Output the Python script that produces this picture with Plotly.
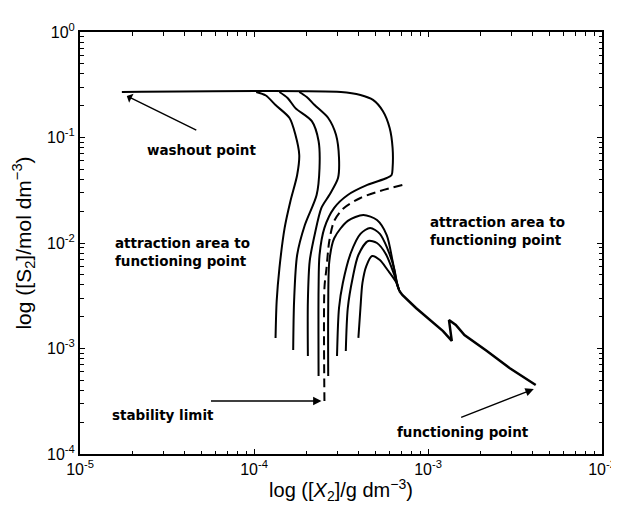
import plotly.graph_objects as go

# ---- trajectories: X2 (g dm^-3) vs S2 (mol dm^-3) ----
# left trajectories leaving the washout plateau
t1_x = [1.03e-4, 1.17e-4, 1.33e-4, 1.60e-4, 1.73e-4, 1.82e-4, 1.77e-4, 1.62e-4, 1.50e-4, 1.40e-4, 1.35e-4, 1.33e-4]
t1_y = [0.270, 0.250, 0.203, 0.153, 0.106, 0.0683, 0.0441, 0.0250, 0.0139, 0.00579, 0.00282, 0.00126]

t2_x = [1.40e-4, 1.56e-4, 1.73e-4, 2.15e-4, 2.35e-4, 2.38e-4, 2.29e-4, 1.96e-4, 1.77e-4, 1.70e-4, 1.68e-4]
t2_y = [0.270, 0.237, 0.190, 0.143, 0.0927, 0.0514, 0.0285, 0.0148, 0.00769, 0.00282, 0.000968]

t3_x = [1.82e-4, 2.01e-4, 2.23e-4, 2.67e-4, 2.96e-4, 3.08e-4, 3.04e-4, 2.71e-4, 2.44e-4, 2.23e-4, 2.09e-4, 2.04e-4, 2.04e-4]
t3_y = [0.270, 0.242, 0.203, 0.153, 0.106, 0.0639, 0.0413, 0.0285, 0.0215, 0.0119, 0.00675, 0.00282, 0.000849]

# outer trajectory incl. washout plateau
t4_x = [1.74e-5, 3.16e-4, 4.09e-4, 4.83e-4, 5.50e-4, 6.02e-4, 6.26e-4, 6.26e-4, 6.18e-4, 5.79e-4,
        4.48e-4, 3.46e-4, 2.89e-4, 2.54e-4, 2.38e-4, 2.35e-4, 2.35e-4]
t4_y = [0.270, 0.270, 0.253, 0.227, 0.178, 0.123, 0.0795, 0.0514, 0.0441, 0.0413,
        0.0355, 0.0285, 0.0215, 0.0139, 0.00769, 0.0037, 0.000549]

# separatrix (stability limit)
sep_x = [7.12e-4, 5.29e-4, 4.09e-4, 3.29e-4, 2.89e-4, 2.71e-4, 2.61e-4, 2.54e-4, 2.54e-4]
sep_y = [0.0355, 0.0311, 0.0267, 0.0215, 0.0162, 0.0105, 0.00579, 0.00375, 0.000318]

# trajectories attracted to the functioning point
a_x = [2.67e-4, 2.67e-4, 2.71e-4, 2.89e-4, 3.46e-4, 4.25e-4, 5.09e-4, 5.79e-4, 6.26e-4, 6.59e-4, 6.85e-4]
a_y = [0.000549, 0.00242, 0.00675, 0.0111, 0.0162, 0.0184, 0.0165, 0.0119, 0.00675, 0.00436, 0.00351]

b_x = [3.00e-4, 3.08e-4, 3.24e-4, 3.60e-4, 4.09e-4, 4.65e-4, 5.29e-4, 5.86e-4, 6.42e-4, 6.68e-4, 6.85e-4]
b_y = [0.000849, 0.00242, 0.00418, 0.00804, 0.0122, 0.0139, 0.0122, 0.00877, 0.00555, 0.00391, 0.00351]

c_x = [3.37e-4, 3.46e-4, 3.69e-4, 3.98e-4, 4.53e-4, 5.09e-4, 5.72e-4, 6.34e-4, 6.76e-4, 6.85e-4]
c_y = [0.000947, 0.00242, 0.00466, 0.00769, 0.01045, 0.0100, 0.00787, 0.00520, 0.00375, 0.00351]

d_x = [3.98e-4, 4.09e-4, 4.20e-4, 4.42e-4, 4.77e-4, 5.29e-4, 5.86e-4, 6.50e-4, 6.85e-4]
d_y = [0.00126, 0.00242, 0.00418, 0.00605, 0.00753, 0.00690, 0.00555, 0.00436, 0.00351]

# common path to the functioning point
tail_x = [6.85e-4, 7.12e-4, 8.53e-4, 1.05e-3, 1.22e-3, 1.37e-3, 1.32e-3, 1.445e-3, 1.62e-3, 2.18e-3, 2.94e-3, 4.16e-3]
tail_y = [0.00351, 0.00322, 0.00242, 0.00182, 0.00146, 0.00118, 0.00186, 0.00167, 0.00134, 0.000947, 0.000653, 0.000451]

# ---- ticks ----
x_major = [1e-5, 1e-4, 1e-3, 1e-2]
x_major_text = ["10<sup>-5</sup>", "10<sup>-4</sup>", "10<sup>-3</sup>", "10<sup>-2</sup>"]
y_major = [1e-4, 1e-3, 1e-2, 1e-1, 1e0]
y_major_text = ["10<sup>-4</sup>", "10<sup>-3</sup>", "10<sup>-2</sup>", "10<sup>-1</sup>", "10<sup>0</sup>"]
x_minor = [k * 10.0 ** d for d in (-5, -4, -3) for k in range(2, 10)]
y_minor = [k * 10.0 ** d for d in (-4, -3, -2, -1) for k in range(2, 10)]

# ---- labels (positions in log10 units) ----
label_text = ["washout point", "attraction area to<br>functioning point",
              "attraction area to<br>functioning point", "stability limit", "functioning point"]
label_lx = [-4.30, -4.412, -2.599, -4.524, -2.801]
label_ly = [-1.118, -2.085, -1.882, -3.630, -3.795]

# arrows: head and tail (log10 units)
arrow_head_lx = [-4.731, -3.612, -2.392]
arrow_head_ly = [-0.607, -3.498, -3.384]
arrow_tail_lx = [-4.323, -4.256, -2.818]
arrow_tail_ly = [-0.938, -3.498, -3.659]
arrow_style = [1, 2, 2]

fig = go.Figure()

solid = [(t1_x, t1_y), (t2_x, t2_y), (t3_x, t3_y), (t4_x, t4_y),
         (a_x, a_y), (b_x, b_y), (c_x, c_y), (d_x, d_y)]
for xs, ys in solid:
    fig.add_trace(go.Scatter(x=xs, y=ys, mode="lines",
                             line=dict(color="black", width=2, shape="spline", smoothing=0.8),
                             hoverinfo="skip"))
fig.add_trace(go.Scatter(x=sep_x, y=sep_y, mode="lines",
                         line=dict(color="black", width=2, dash="9px,5px", shape="spline", smoothing=0.8),
                         hoverinfo="skip"))
fig.add_trace(go.Scatter(x=tail_x, y=tail_y, mode="lines",
                         line=dict(color="black", width=2.5), hoverinfo="skip"))

for t, lx, ly in zip(label_text, label_lx, label_ly):
    fig.add_annotation(x=lx, y=ly, xref="x", yref="y", text="<b>" + t + "</b>", showarrow=False,
                       font=dict(family="DejaVu Sans", size=13.5, color="black"), align="left")

for hx, hy, tx, ty, st in zip(arrow_head_lx, arrow_head_ly, arrow_tail_lx, arrow_tail_ly, arrow_style):
    fig.add_annotation(x=hx, y=hy, xref="x", yref="y", ax=tx, ay=ty, axref="x", ayref="y",
                       text="", showarrow=True, arrowhead=st, arrowsize=1.2, arrowwidth=1.4,
                       arrowcolor="black", standoff=0, startstandoff=0)

axis_common = dict(type="log", showgrid=False, zeroline=False, showline=True, linecolor="black",
                   linewidth=2, mirror="allticks", ticks="inside", ticklen=5, tickwidth=1,
                   tickcolor="black", ticklabeloverflow="allow",
                   tickfont=dict(family="Liberation Sans", size=16, color="black"))

fig.update_layout(
    width=619, height=507,
    margin=dict(l=72, r=11, t=24, b=61),
    plot_bgcolor="white", paper_bgcolor="white",
    showlegend=False,
    font=dict(family="Liberation Sans", color="black"),
    xaxis=dict(range=[-5, -2], tickmode="array", tickvals=x_major, ticktext=x_major_text,
               minor=dict(tickmode="array", tickvals=x_minor, ticks="inside", ticklen=3.5,
                          tickcolor="black", showgrid=False),
               title=dict(text="log ([<i>X</i><sub>2</sub>]/g dm<sup>\u22123</sup>)",
                          font=dict(family="Liberation Sans", size=20), standoff=6),
               **axis_common),
    yaxis=dict(range=[-4, 0], tickmode="array", tickvals=y_major, ticktext=y_major_text,
               minor=dict(tickmode="array", tickvals=y_minor, ticks="inside", ticklen=3.5,
                          tickcolor="black", showgrid=False),
               title=dict(text="log ([S<sub>2</sub>]/mol dm<sup>\u22123</sup>)",
                          font=dict(family="Liberation Sans", size=21), standoff=10),
               **axis_common),
)

fig.write_html("out.html")
